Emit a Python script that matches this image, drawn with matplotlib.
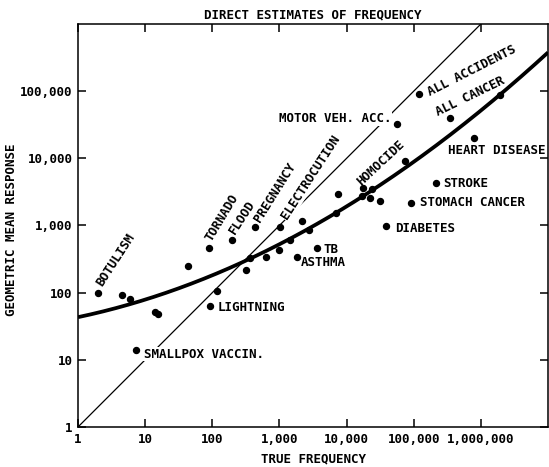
import numpy as np
import matplotlib
matplotlib.use("Agg")
from matplotlib import pyplot as plt

plt.rcParams['font.family'] = ['DejaVu Sans Mono']
plt.rcParams['font.weight'] = 'bold'
plt.rcParams['axes.titleweight'] = 'bold'
plt.rcParams['axes.labelweight'] = 'bold'

# true frequency (x) and geometric mean response (y) for each hazard
true_freq = [2, 4.5, 5.9, 13.8, 15.8, 7.2, 44, 90, 93, 119, 198, 319, 366, 434, 631,
             984, 1017, 1432, 3594, 1816, 2735, 2154, 6870, 7360, 17860, 24260, 16680,
             22690, 31900, 39150, 74800, 57000, 120600, 91800, 215400, 347000, 788000,
             1910000]
mean_resp = [98, 91, 80, 51, 48, 13.9, 247, 457, 63, 105, 601, 215, 324, 937, 336,
             427, 937, 601, 457, 336, 846, 1151, 1513, 2900, 3560, 3440, 2710,
             2530, 2280, 970, 9270, 32900, 91900, 2130, 4220, 40400, 20400,
             88700]

# quadratic fit: log10(y) = a*log10(x)^2 + b*log10(x) + c
fit_a, fit_b, fit_c = 0.0503, 0.211, 1.635

x_ticks = [1, 10, 100, 1000, 10000, 100000, 1000000]
y_ticks = [1, 10, 100, 1000, 10000, 100000]

# label text, index of its point, offset (points), rotation, alignment, blank out line behind
labels = [
    ("BOTULISM", 0, (0.7, 5.8), 57, 'left', False),
    ("SMALLPOX VACCIN.", 5, (5.8, -2.9), 0, 'left', True),
    ("LIGHTNING", 8, (5.0, -0.7), 0, 'left', False),
    ("TORNADO", 7, (-0.7, 5.8), 59, 'left', False),
    ("FLOOD", 10, (0.0, 5.0), 57, 'left', False),
    ("PREGNANCY", 13, (1.4, 4.3), 58, 'left', False),
    ("ELECTROCUTION", 16, (2.9, 6.5), 57, 'left', True),
    ("TB", 18, (5.0, -0.7), 0, 'left', False),
    ("ASTHMA", 19, (2.9, -3.6), 0, 'left', False),
    ("HOMOCIDE", 24, (-3.6, 3.6), 43, 'left', False),
    ("MOTOR VEH. ACC.", 31, (-4.3, 3.6), 0, 'right', True),
    ("ALL ACCIDENTS", 32, (6.5, 0.7), 27, 'left', False),
    ("ALL CANCER", 35, (-10.1, 3.6), 26, 'left', False),
    ("HEART DISEASE", 36, (-18.7, -9.4), 0, 'left', False),
    ("STROKE", 34, (5.0, 0.0), 0, 'left', False),
    ("STOMACH CANCER", 33, (6.5, 0.7), 0, 'left', False),
    ("DIABETES", 29, (6.5, -1.4), 0, 'left', False),
]

fig = plt.figure(figsize=(5.49, 4.67), dpi=100)
ax = fig.add_axes([0.1421, 0.0857, 0.8561, 0.8629])
ax.set_xscale('log')
ax.set_yscale('log')
ax.set_xlim(1, 1e7)
ax.set_ylim(1, 1e6)

# identity line
ax.plot([1, 1e6], [1, 1e6], color='black', lw=0.9, zorder=1)

# fitted curve
u = np.linspace(0, 7, 300)
ax.plot(10 ** u, 10 ** (fit_a * u ** 2 + fit_b * u + fit_c), color='black', lw=2.7,
        solid_capstyle='butt', zorder=2)

ax.plot(true_freq, mean_resp, 'o', color='black', ms=4.3, zorder=3)

for text, idx, off, rot, ha, blank in labels:
    box = dict(boxstyle='square,pad=0.05', fc='white', ec='none') if blank else None
    ax.annotate(text, (true_freq[idx], mean_resp[idx]), xytext=off,
                textcoords='offset points', rotation=rot, rotation_mode='anchor',
                ha=ha, va='center', fontsize=9, zorder=4, bbox=box)

ax.set_xticks(x_ticks)
ax.set_xticklabels([f"{v:,}" for v in x_ticks])
ax.set_yticks(y_ticks)
ax.set_yticklabels([f"{v:,}" for v in y_ticks])
ax.minorticks_off()
ax.tick_params(which='major', direction='in', length=5.5, width=1.1,
               top=True, right=True, labelsize=9, pad=4)
for sp in ax.spines.values():
    sp.set_linewidth(1.1)

ax.set_title("DIRECT ESTIMATES OF FREQUENCY", fontsize=9, pad=4)
ax.set_xlabel("TRUE FREQUENCY", fontsize=9, labelpad=5)
ax.set_ylabel("GEOMETRIC MEAN RESPONSE", fontsize=9)
ax.yaxis.set_label_coords(-0.128, 0.49)

fig.savefig("out.png", dpi=100)
